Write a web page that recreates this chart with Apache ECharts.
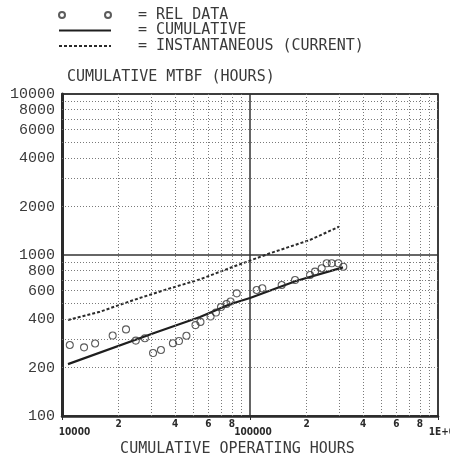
<!DOCTYPE html>
<html>
<head>
<meta charset="utf-8">
<script src="https://cdn.jsdelivr.net/npm/echarts@6/dist/echarts.min.js"></script>
<style>
  html, body { margin: 0; padding: 0; background: #ffffff; }
  #chart { width: 450px; height: 456px; }
</style>
</head>
<body>
<div id="chart"></div>
<script>
// Reliability growth: cumulative MTBF vs cumulative operating hours (log-log)
const relHours = [11000, 13100, 15000, 18600, 21900, 24700, 27600, 30500, 33600, 38900,
                  41900, 45900, 51300, 54500, 61700, 65900, 70100, 75000, 78800, 85000,
                  108500, 116300, 147400, 173600, 208500, 221700, 240600, 255900, 272100, 294900, 313500];
const relMtbf  = [276, 267, 282, 316, 345, 294, 304, 246, 257, 283,
                  292, 315, 367, 384, 415, 439, 475, 496, 514, 578,
                  606, 621, 651, 699, 751, 788, 827, 888, 888, 888, 846];

const cumHours = [10760, 31200, 54200, 78200, 100000, 175700, 312300];
const cumMtbf  = [210, 329, 412, 494, 541, 689, 838];

const instHours = [10760, 15900, 24000, 36100, 54200, 81500, 127800, 208500, 297400];
const instMtbf  = [395, 444, 525, 612, 706, 846, 1025, 1240, 1499];

// minor grid lines and their tick labels
const xMinor = [20000, 30000, 40000, 50000, 60000, 70000, 80000, 90000,
                200000, 300000, 400000, 500000, 600000, 700000, 800000, 900000];
const xMinorLabels = ['2', '', '4', '', '6', '', '8', '',
                      '2', '', '4', '', '6', '', '8', ''];
const yMinor = [200, 300, 400, 500, 600, 700, 800, 900,
                2000, 3000, 4000, 5000, 6000, 7000, 8000, 9000];
const yMinorLabels = ['200', '', '400', '', '600', '', '800', '',
                      '2000', '', '4000', '', '6000', '', '8000', ''];

const zip = (a, b) => a.map((v, i) => [v, b[i]]);

const monoFont = 'DejaVu Sans Mono';
const numFont = 'Liberation Mono';
const tickFont = 'DejaVu Sans Condensed';
const ink = '#2a2a2a';
const textInk = '#3a3a3a';

const gridLineStyle = { type: [1, 2], color: '#7a7a7a', width: 1 };

const chart = echarts.init(document.getElementById('chart'), null, { renderer: 'canvas' });

chart.setOption({
  animation: false,
  backgroundColor: '#ffffff',
  legend: {
    orient: 'vertical',
    left: 58,
    top: 7.5,
    padding: 0,
    itemWidth: 52,
    itemHeight: 6,
    itemGap: 0.5,
    selectedMode: false,
    data: [
      { name: 'REL DATA', icon: 'path://M0,3A3,3 0 1,1 6,3A3,3 0 1,1 0,3ZM46,3A3,3 0 1,1 52,3A3,3 0 1,1 46,3Z' },
      { name: 'CUMULATIVE', itemStyle: { opacity: 0 } },
      { name: 'INSTANTANEOUS (CURRENT)', itemStyle: { opacity: 0 } }
    ],
    formatter: name => '{t|= ' + name + '}',
    textStyle: {
      rich: {
        t: { fontFamily: monoFont, fontSize: 15, color: textInk, lineHeight: 15, padding: [0, 0, 0, 22] }
      }
    }
  },
  grid: {
    left: 62, right: 12, top: 94, bottom: 40,
    outerBoundsMode: 'none',
    containLabel: false,
    show: true, borderColor: ink, borderWidth: 1.5, backgroundColor: 'transparent'
  },
  xAxis: {
    type: 'log',
    logBase: 10,
    min: 10000,
    max: 1000000,
    name: 'CUMULATIVE OPERATING HOURS',
    nameLocation: 'middle',
    nameGap: 25,
    nameTextStyle: { fontFamily: monoFont, fontSize: 15, color: textInk, padding: [0, 25, 0, 0] },
    axisLine: { show: true, lineStyle: { color: ink, width: 2.5 } },
    axisTick: { show: true, length: 4, lineStyle: { color: ink, width: 1 } },
    splitLine: { show: true, lineStyle: { color: '#333', width: 1.5, type: 'solid' } },
    axisLabel: {
      margin: 11,
      formatter: v => {
        const n = Math.round(v);
        if (n === 10000) return '{a|10000}';
        if (n === 100000) return '{b|100000}';
        return '{c|1E+06}';
      },
      rich: {
        a: { fontFamily: tickFont, fontWeight: 'bold', fontSize: 10, color: ink, padding: [0, 0, 0, 25] },
        b: { fontFamily: tickFont, fontWeight: 'bold', fontSize: 10, color: ink, padding: [0, 0, 0, 6] },
        c: { fontFamily: tickFont, fontWeight: 'bold', fontSize: 10, color: ink, padding: [0, 0, 0, 14] }
      }
    }
  },
  yAxis: {
    type: 'log',
    logBase: 10,
    min: 100,
    max: 10000,
    name: 'CUMULATIVE MTBF (HOURS)',
    nameLocation: 'end',
    nameGap: 9,
    nameTextStyle: { fontFamily: monoFont, fontSize: 15, color: textInk, align: 'left', padding: [0, 0, 0, 5] },
    axisLine: { show: true, lineStyle: { color: ink, width: 3 } },
    axisTick: { show: false },
    splitLine: { show: true, lineStyle: { color: '#333', width: 1.5, type: 'solid' } },
    axisLabel: {
      margin: 7,
      fontFamily: numFont,
      fontSize: 15,
      color: textInk,
      formatter: v => String(Math.round(v))
    }
  },
  series: [
    {
      name: 'REL DATA',
      type: 'scatter',
      symbol: 'circle',
      symbolSize: 7,
      itemStyle: { color: 'rgba(255,255,255,0)', borderColor: '#333', borderWidth: 1.1 },
      data: zip(relHours, relMtbf),
      z: 4,
      markLine: {
        silent: true,
        symbol: ['none', 'none'],
        lineStyle: gridLineStyle,
        data: [
          ...xMinor.map((v, i) => ({
            xAxis: v,
            label: {
              show: xMinorLabels[i] !== '',
              position: 'start',
              distance: 3,
              formatter: xMinorLabels[i],
              fontFamily: tickFont,
              fontWeight: 'bold',
              fontSize: 10,
              color: ink
            }
          })),
          ...yMinor.map((v, i) => ({
            yAxis: v,
            label: {
              show: yMinorLabels[i] !== '',
              position: 'start',
              distance: 7,
              formatter: yMinorLabels[i],
              fontFamily: numFont,
              fontSize: 15,
              color: textInk
            }
          }))
        ]
      }
    },
    {
      name: 'CUMULATIVE',
      type: 'line',
      symbol: 'none',
      smooth: false,
      lineStyle: { color: '#1e1e1e', width: 2.2 },
      itemStyle: { color: '#1e1e1e' },
      data: zip(cumHours, cumMtbf),
      z: 3
    },
    {
      name: 'INSTANTANEOUS (CURRENT)',
      type: 'line',
      symbol: 'none',
      smooth: false,
      lineStyle: { color: '#2a2a2a', width: 2, type: [3, 2] },
      itemStyle: { color: '#2a2a2a' },
      data: zip(instHours, instMtbf),
      z: 3
    }
  ]
});
</script>
</body>
</html>
